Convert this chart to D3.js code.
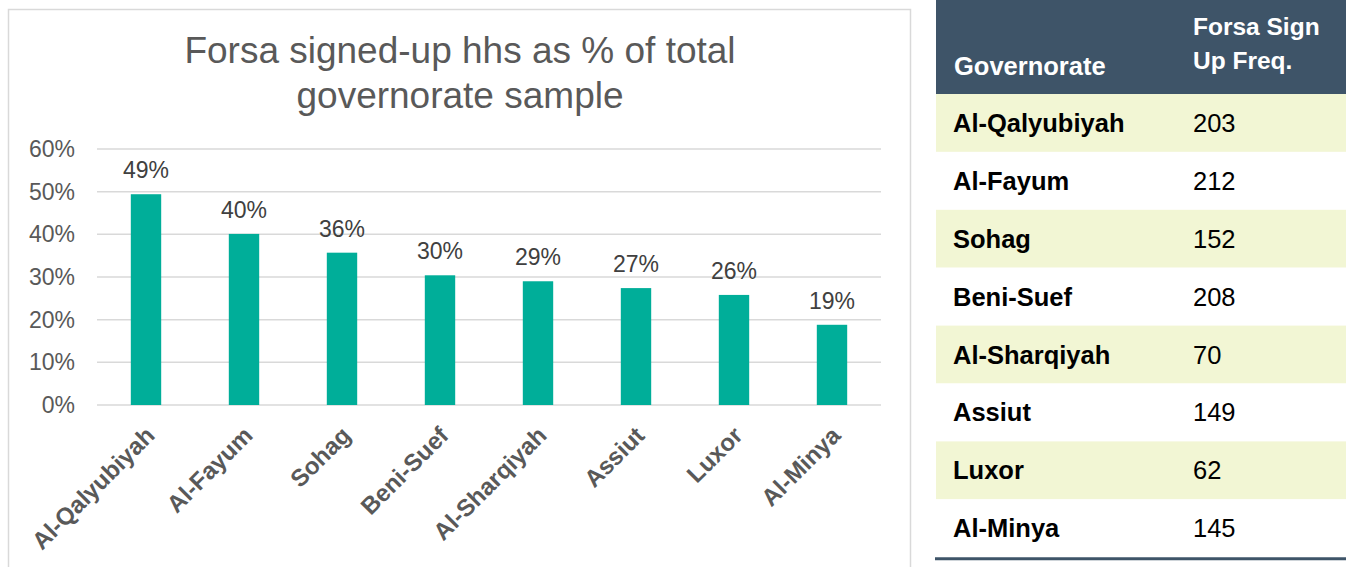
<!DOCTYPE html>
<html>
<head>
<meta charset="utf-8">
<script src="https://cdn.jsdelivr.net/npm/d3@7"></script>
<style>
  body { margin: 0; background: #fff; }
  svg { display: block; font-family: "Liberation Sans", Arial, sans-serif; }
</style>
</head>
<body>
<div id="canvas"></div>
<script>
// chart data
const governorates = ["Al-Qalyubiyah", "Al-Fayum", "Sohag", "Beni-Suef", "Al-Sharqiyah", "Assiut", "Luxor", "Al-Minya"];
const shares = [0.494, 0.401, 0.357, 0.304, 0.290, 0.274, 0.258, 0.188];
const yTicks = [0, 0.1, 0.2, 0.3, 0.4, 0.5, 0.6];
// table data
const tableHeader = ["Governorate", "Forsa Sign|Up Freq."];
const signUpFreq = [203, 212, 152, 208, 70, 149, 62, 145];

const width = 1346, height = 567;
const svg = d3.select("#canvas").append("svg")
  .attr("width", width).attr("height", height);

// chart frame
svg.append("rect")
  .attr("x", 8.5).attr("y", 9.5)
  .attr("width", 902).attr("height", 570)
  .attr("fill", "#fff").attr("stroke", "#d9d9d9").attr("stroke-width", 1.5);

// title
const title = svg.append("text")
  .attr("text-anchor", "middle")
  .attr("fill", "#595959")
  .style("font-size", "37px");
title.append("tspan").attr("x", 460).attr("y", 63).text("Forsa signed-up hhs as % of total");
title.append("tspan").attr("x", 460).attr("y", 108).text("governorate sample");

const margin = { top: 149, left: 97, right: 465, bottom: 162 };
const iwidth = width - margin.left - margin.right;
const iheight = 405 - margin.top;

const g = svg.append("g").attr("transform", `translate(${margin.left},${margin.top})`);

const x = d3.scaleBand().domain(governorates).range([0, iwidth]).padding(0);
const y = d3.scaleLinear().domain([0, 0.6]).range([iheight, 0]);

// gridlines
g.append("g").selectAll("line").data(yTicks).enter().append("line")
  .attr("x1", 0).attr("x2", iwidth)
  .attr("y1", d => y(d)).attr("y2", d => y(d))
  .attr("stroke", "#d9d9d9").attr("stroke-width", 1.5);

// y axis labels
const yAxis = g.append("g")
  .call(d3.axisLeft(y).tickValues(yTicks).tickFormat(d3.format(".0%")).tickSize(0).tickPadding(22));
yAxis.select(".domain").remove();
yAxis.selectAll("text").attr("fill", "#595959").style("font-size", "23px")
  .style("font-family", "Liberation Sans, Arial, sans-serif");

// bars
const barW = x.bandwidth() * 0.31;
const data = governorates.map((d, i) => ({ name: d, value: shares[i] }));
g.selectAll("rect.bar").data(data).enter().append("rect")
  .attr("class", "bar")
  .attr("x", d => x(d.name) + (x.bandwidth() - barW) / 2)
  .attr("y", d => y(d.value))
  .attr("width", barW)
  .attr("height", d => iheight - y(d.value))
  .attr("fill", "#00ae99");

// value labels
g.selectAll("text.val").data(data).enter().append("text")
  .attr("class", "val")
  .attr("x", d => x(d.name) + x.bandwidth() / 2)
  .attr("y", d => y(d.value) - 16)
  .attr("text-anchor", "middle")
  .attr("fill", "#404040")
  .style("font-size", "23px")
  .text(d => d3.format(".0%")(d.value));

// x axis labels
const xAxis = g.append("g")
  .attr("transform", `translate(0,${iheight})`)
  .call(d3.axisBottom(x).tickSize(0).tickPadding(0));
xAxis.select(".domain").remove();
xAxis.selectAll("text")
  .attr("text-anchor", "end")
  .attr("dy", 0)
  .attr("transform", "translate(10,32) rotate(-45)")
  .attr("fill", "#595959")
  .style("font-size", "24px")
  .style("font-weight", "bold")
  .style("font-family", "Liberation Sans, Arial, sans-serif");

// table
const tx = 936, tw = width - tx;
const headH = 94, rowH = 57.9;
const t = svg.append("g");
t.append("rect").attr("x", tx).attr("y", 0).attr("width", tw).attr("height", headH).attr("fill", "#3e5468");
t.append("text").attr("x", 954).attr("y", 75).attr("fill", "#fff")
  .style("font-size", "25.5px").style("font-weight", "bold").text(tableHeader[0]);
const h2 = t.append("text").attr("fill", "#fff").style("font-size", "24.5px").style("font-weight", "bold");
tableHeader[1].split("|").forEach((s, i) => {
  h2.append("tspan").attr("x", 1193).attr("y", 35 + i * 34).text(s);
});

const rows = t.selectAll("g.row").data(governorates).enter().append("g")
  .attr("class", "row")
  .attr("transform", (d, i) => `translate(0,${headH + i * rowH})`);
rows.append("rect").attr("x", tx).attr("width", tw).attr("height", rowH)
  .attr("fill", (d, i) => i % 2 === 0 ? "#f2f6d4" : "#fff");
rows.append("text").attr("x", 953).attr("y", rowH / 2 + 9)
  .style("font-size", "25.5px").style("font-weight", "bold").attr("fill", "#000")
  .text(d => d);
rows.append("text").attr("x", 1193).attr("y", rowH / 2 + 9)
  .style("font-size", "25.5px").attr("fill", "#000")
  .text((d, i) => signUpFreq[i]);

t.append("line")
  .attr("x1", tx - 1).attr("x2", width)
  .attr("y1", headH + governorates.length * rowH + 1.5)
  .attr("y2", headH + governorates.length * rowH + 1.5)
  .attr("stroke", "#3e5468").attr("stroke-width", 3);
</script>
</body>
</html>
